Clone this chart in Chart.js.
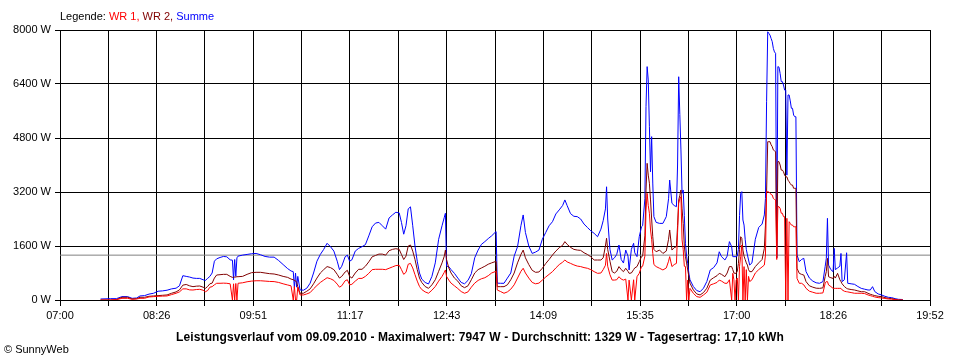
<!DOCTYPE html>
<html><head><meta charset="utf-8">
<script src="https://cdn.jsdelivr.net/npm/chart.js@4.4.1/dist/chart.umd.min.js"></script>
<style>
html,body{margin:0;padding:0;background:#fff;}
#wrap{position:relative;width:960px;height:360px;overflow:hidden;}
canvas{position:absolute;left:0;top:0;}
.t{position:absolute;font-family:"Liberation Sans",Arial,sans-serif;font-size:11px;white-space:nowrap;color:#000;line-height:13px;}
</style></head><body>
<div id="wrap">
<canvas id="c" width="960" height="360"></canvas>
<div class="t" style="left:60px;top:10px;">Legende: <span style="color:#ff0000">WR 1,</span> <span style="color:#800000">WR 2,</span> <span style="color:#0000ff">Summe</span></div>
<div class="t" style="left:0;width:960px;text-align:center;top:331px;font-weight:bold;font-size:12px;letter-spacing:0.11px;">Leistungsverlauf vom 09.09.2010 - Maximalwert: 7947 W - Durchschnitt: 1329 W - Tagesertrag: 17,10 kWh</div>
<div class="t" style="left:4px;top:343px;">© SunnyWeb</div>
</div>
<script>
// ---- data ----
const times = ["07:36","07:45","07:50","07:55","08:00","08:04","08:08","08:11","08:15","08:19","08:23","08:27","08:31","08:35","08:39","08:43","08:46","08:49","08:52","08:55","08:58","09:01","09:04","09:07","09:09","09:11","09:13","09:15","09:17","09:19","09:22","09:25","09:28","09:31","09:33","09:34","09:35","09:36","09:37","09:38","09:42","09:46","09:50","09:54","09:58","10:02","10:06","10:10","10:14","10:18","10:22","10:25","10:27","10:28","10:29","10:30","10:31","10:33","10:36","10:39","10:42","10:45","10:48","10:51","10:54","10:57","11:00","11:03","11:06","11:08","11:10","11:13","11:15","11:17","11:19","11:22","11:25","11:28","11:31","11:34","11:37","11:40","11:43","11:46","11:49","11:52","11:55","11:58","12:01","12:03","12:05","12:07","12:09","12:11","12:13","12:15","12:17","12:19","12:21","12:24","12:27","12:30","12:33","12:36","12:39","12:41","12:42","12:43","12:45","12:47","12:50","12:53","12:56","12:59","13:02","13:05","13:08","13:11","13:14","13:17","13:20","13:23","13:26","13:27","13:28","13:31","13:34","13:37","13:40","13:43","13:46","13:49","13:51","13:53","13:56","13:59","14:02","14:05","14:08","14:11","14:14","14:17","14:20","14:23","14:26","14:28","14:30","14:33","14:36","14:39","14:42","14:45","14:48","14:51","14:54","14:57","15:00","15:02","15:04","15:05","15:06","15:08","15:10","15:12","15:14","15:16","15:18","15:20","15:22","15:24","15:25","15:27","15:29","15:30","15:32","15:34","15:36","15:37","15:39","15:40","15:41","15:42","15:43","15:44","15:45","15:46","15:47","15:49","15:52","15:55","15:58","16:00","16:01","16:03","16:05","16:07","16:08","16:09","16:10","16:11","16:12","16:13","16:14","16:15","16:16","16:17","16:18","16:19","16:22","16:25","16:28","16:31","16:34","16:37","16:40","16:43","16:45","16:47","16:50","16:52","16:54","16:56","16:57","16:58","16:59","17:00","17:01","17:02","17:03","17:04","17:05","17:06","17:07","17:08","17:09","17:10","17:11","17:12","17:14","17:17","17:20","17:23","17:25","17:26","17:27","17:28","17:29","17:30","17:31","17:32","17:33","17:34","17:35","17:36","17:37","17:38","17:39","17:40","17:41","17:42","17:43","17:44","17:45","17:46","17:47","17:48","17:49","17:50","17:51","17:52","17:53","17:54","17:56","17:58","18:00","18:02","18:05","18:08","18:11","18:14","18:17","18:19","18:20","18:21","18:22","18:24","18:26","18:27","18:28","18:30","18:32","18:33","18:34","18:36","18:38","18:39","18:42","18:45","18:48","18:51","18:54","18:57","18:59","19:01","19:03","19:06","19:09","19:12","19:15","19:18","19:21","19:24","19:27","19:28"];

const summe = [30,40,40,100,100,50,60,120,130,175,200,260,270,290,330,350,420,720,700,680,650,640,640,600,580,640,700,800,1150,1220,1260,1290,1280,1190,1180,600,1200,700,1250,1300,1330,1350,1370,1380,1340,1290,1270,1270,1170,1050,930,860,840,350,800,380,700,300,290,350,500,800,1150,1350,1500,1680,1580,1450,1150,900,1000,1280,1330,1150,1190,1450,1530,1580,1640,1900,2170,2280,2300,2200,2100,2430,2520,2600,2580,2300,1950,2200,2700,2760,2200,1600,1150,800,620,520,475,700,1100,1800,2200,2450,2570,1000,990,900,790,650,520,480,580,780,1250,1480,1650,1730,1820,1900,2000,2025,500,495,495,650,800,1300,1580,2200,2520,2000,1600,1380,1420,1480,1800,2000,2200,2320,2550,2670,2800,2965,2800,2560,2480,2470,2400,2250,2150,2050,1975,1875,2100,2350,2700,3355,2400,1500,1185,1250,1350,1630,1200,1095,1480,1300,890,1500,1680,1400,1285,1875,2170,2200,3000,5730,6915,6520,5135,3800,4840,3465,2470,2300,2270,2270,2470,3000,3555,2865,2800,2765,4000,6615,5500,4445,3160,3260,2500,1680,1300,1085,800,600,400,280,245,350,550,890,960,1100,1430,1285,1185,1300,1730,1580,1285,1285,1285,1285,1300,1500,2500,3160,3210,2370,2220,1800,1500,1333,1185,1035,1100,1800,2150,2250,2520,3010,5875,7947,7900,7850,7750,7655,7455,7350,7310,1250,6915,6900,6715,6470,6470,6370,6220,6220,3700,6075,6075,5900,5680,5680,5480,5430,5430,1333,1135,1200,1235,840,650,560,510,495,545,1000,1235,2420,1035,900,840,1530,900,950,1000,1380,545,600,1400,495,480,465,400,345,320,296,296,395,250,180,150,110,80,70,40,20,15,0];

const wr2 = [0,0,10,80,80,30,40,80,80,110,120,130,140,150,200,240,300,440,460,420,395,410,415,380,345,400,480,500,650,740,750,760,760,700,670,670,680,680,690,690,700,760,810,820,820,800,780,770,740,700,670,620,600,580,570,520,400,200,200,260,330,480,650,800,900,990,960,900,760,650,700,830,880,700,650,800,910,910,1000,1130,1280,1320,1360,1360,1330,1460,1500,1520,1500,1350,1200,1300,1600,1630,1450,1200,900,650,520,400,345,450,600,850,1100,1300,1480,1200,950,800,650,560,420,365,420,600,800,900,950,1000,1060,1100,1135,1140,395,395,395,450,600,800,1100,1350,1480,1250,1050,880,820,830,940,1080,1200,1333,1450,1550,1620,1730,1650,1560,1500,1480,1470,1400,1350,1280,1185,1185,1185,1250,1600,1830,1500,1150,840,800,850,990,900,840,940,850,790,800,900,950,990,1135,1285,1300,1900,3260,4050,3700,3460,2965,2400,1875,1500,1430,1480,1380,1450,1800,2075,1480,1550,1580,2200,2965,3100,3260,2700,2270,1600,1285,1100,890,700,500,300,180,150,220,350,590,660,720,790,760,690,800,990,990,900,800,790,790,850,1085,1500,1875,1830,1480,1300,1200,1100,1035,900,840,840,990,1100,1200,1530,2220,3210,4690,4690,4690,4600,4545,4445,4420,4395,1250,4100,4100,4000,3850,3850,3800,3700,3650,3650,3550,3505,3450,3405,3405,3310,3310,3310,940,790,760,740,545,420,380,350,345,360,700,840,1235,690,660,640,700,650,790,600,545,480,400,345,330,310,296,270,245,245,200,170,150,130,110,100,70,50,40,20,0,0,0];

const wr1 = [0,0,10,50,50,20,30,50,50,90,100,110,115,120,160,200,240,330,330,300,296,310,316,290,245,280,380,395,450,495,495,500,495,480,0,480,0,490,0,495,510,540,560,570,570,560,550,545,520,480,445,420,0,400,0,0,380,150,150,180,220,330,430,520,590,660,630,580,470,380,420,570,600,450,465,560,640,640,700,790,900,910,910,910,900,940,980,1020,1030,900,760,820,1060,1085,950,750,560,400,310,240,200,290,400,560,700,820,890,700,590,500,420,340,250,200,240,380,500,580,630,660,720,800,840,840,296,250,200,240,320,450,650,850,940,800,650,520,480,500,590,680,760,840,950,1050,1120,1185,1130,1085,1040,1005,990,960,940,900,840,790,800,900,1030,1380,1000,750,590,590,600,690,620,590,620,0,590,0,600,0,690,790,990,1000,1300,2665,3160,2800,2570,2075,1800,1380,1050,990,940,890,950,1150,1285,990,1050,1085,2000,2865,3000,3060,1780,1500,1000,990,0,590,0,345,200,100,80,150,230,445,480,520,590,560,495,495,600,0,790,600,0,590,650,0,1000,1285,1630,0,990,0,900,0,700,545,600,800,900,980,1035,1333,3210,3210,3200,3160,3130,3110,3010,2980,2965,1200,2765,2765,2715,2570,2570,2470,2470,0,2420,0,2320,2270,2220,2220,2170,2170,2170,640,495,495,450,345,260,230,200,200,210,500,545,545,445,400,345,345,345,345,345,345,300,260,245,240,220,200,200,200,190,150,130,110,90,70,60,45,30,25,10,0,0,0];

const average = 1329;                       // Durchschnitt (grey line)
const yTicks = [0,1600,3200,4800,6400,8000];
const tickLabels = ["07:00","08:26","09:51","11:17","12:43","14:09","15:35","17:00","18:26","19:52"];
const axisStart = "07:00", axisEnd = "19:52";

// ---- helpers ----
const toMin = s => { const [h,m] = s.split(":").map(Number); return h*60+m; };
const xMin = toMin(axisStart), xMax = toMin(axisEnd);
const nGrid = (tickLabels.length-1)*2;
const gridX = [];
for (let i = 0; i <= nGrid; i++) gridX.push(xMin + i*(xMax-xMin)/nGrid);
const pts = arr => arr.map((v,i) => ({x: toMin(times[i]), y: v}));
const FONT = {family: '"Liberation Sans", Arial, sans-serif', size: 11};

new Chart(document.getElementById('c'), {
  type: 'line',
  data: {
    datasets: [
      {label: 'WR 1', data: pts(wr1), borderColor: '#ff0000'},
      {label: 'WR 2', data: pts(wr2), borderColor: '#800000'},
      {label: 'Summe', data: pts(summe), borderColor: '#0000ff'},
      {label: 'Durchschnitt', data: [{x: xMin, y: average}, {x: xMax, y: average}], borderColor: '#808080'}
    ]
  },
  options: {
    responsive: false,
    animation: false,
    devicePixelRatio: 1,
    parsing: false,
    layout: {padding: {left: 0, right: 30, top: 30, bottom: 0}},
    plugins: {legend: {display: false}, tooltip: {enabled: false}, title: {display: false}},
    elements: {point: {radius: 0}, line: {borderWidth: 1, tension: 0, fill: false}},
    scales: {
      x: {
        type: 'linear', min: xMin, max: xMax,
        afterBuildTicks: s => { s.ticks = gridX.map(v => ({value: v})); },
        afterFit: s => { s.height = 60; },
        grid: {color: '#000', lineWidth: 1, tickLength: 6, drawTicks: true},
        border: {color: '#000', width: 1},
        ticks: {autoSkip: false, maxRotation: 0, minRotation: 0, padding: 3, color: '#000', font: FONT,
          callback: (v, i) => (i % 2 === 0 ? tickLabels[i/2] : '')}
      },
      y: {
        min: 0, max: 8000,
        afterBuildTicks: s => { s.ticks = yTicks.map(v => ({value: v})); },
        afterFit: s => { s.width = 60; },
        grid: {color: '#000', lineWidth: 1, tickLength: 5, drawTicks: true},
        border: {color: '#000', width: 1},
        ticks: {padding: 4, color: '#000', font: FONT, callback: v => v + ' W'}
      }
    }
  }
});
</script>
</body></html>
